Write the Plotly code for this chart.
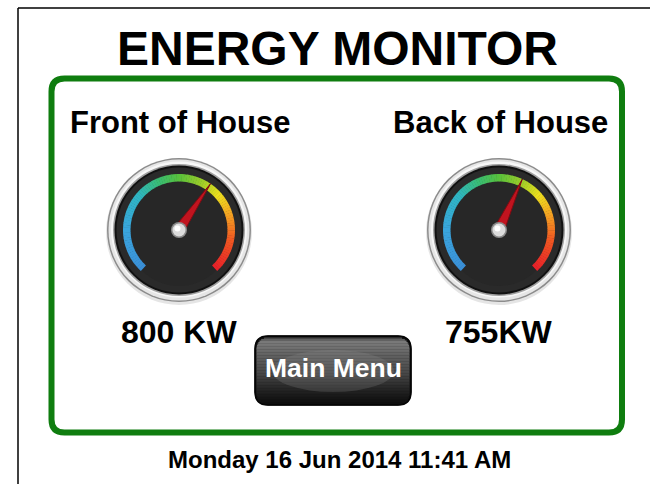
import math
import plotly.graph_objects as go

# ---------------- data ----------------
title_text = "ENERGY MONITOR"
gauge_names = ["Front of House", "Back of House"]
gauge_values = [800, 755]
value_labels = ["800 KW", "755KW"]
gauge_min = 0
gauge_max = 1280
button_label = "Main Menu"
timestamp = "Monday 16 Jun 2014 11:41 AM"

# ---------------- layout / style ----------------
W, H = 650, 484
FONT = "Liberation Sans, Arial, sans-serif"
gauge_centers = [(179, 230), (499, 230)]
START_ANG, END_ANG = -137.0, 137.0
arc_stops = [
    (-137, "#3b8fd8"), (-90, "#3aa6de"), (-50, "#2fb6c4"), (-22, "#3abd72"),
    (0, "#58c23c"), (25, "#9ccd2a"), (48, "#ece11e"), (72, "#f5a623"),
    (100, "#f15a22"), (137, "#e8202a"),
]


def hex2rgb(h):
    h = h.lstrip("#")
    return tuple(int(h[i:i + 2], 16) for i in (0, 2, 4))


def lerp_color(stops, v):
    if v <= stops[0][0]:
        return stops[0][1]
    for (a, ca), (b, cb) in zip(stops[:-1], stops[1:]):
        if a <= v <= b:
            t = (v - a) / (b - a)
            r1, g1, b1 = hex2rgb(ca)
            r2, g2, b2 = hex2rgb(cb)
            return "rgb(%d,%d,%d)" % (r1 + (r2 - r1) * t, g1 + (g2 - g1) * t, b1 + (b2 - b1) * t)
    return stops[-1][1]


def pt(cx, cy, r, ang):
    a = math.radians(ang)
    return cx + r * math.sin(a), cy - r * math.cos(a)


def rrect_path(x0, y0, x1, y1, r):
    return (f"M {x0 + r},{y0} L {x1 - r},{y0} Q {x1},{y0} {x1},{y0 + r} "
            f"L {x1},{y1 - r} Q {x1},{y1} {x1 - r},{y1} L {x0 + r},{y1} "
            f"Q {x0},{y1} {x0},{y1 - r} L {x0},{y0 + r} Q {x0},{y0} {x0 + r},{y0} Z")


def circle(cx, cy, r, fill, line=None, lw=0, opacity=1.0):
    d = dict(type="circle", xref="x", yref="y", x0=cx - r, x1=cx + r, y0=cy - r, y1=cy + r,
             fillcolor=fill, opacity=opacity, layer="above")
    d["line"] = dict(color=line or fill, width=lw)
    return d


shapes = []

# outer frame lines (left and top)
shapes.append(dict(type="line", xref="x", yref="y", x0=18, x1=18, y0=8, y1=H,
                   line=dict(color="#000000", width=1.5), layer="above"))
shapes.append(dict(type="line", xref="x", yref="y", x0=18, x1=W, y0=8, y1=8,
                   line=dict(color="#000000", width=1.5), layer="above"))

# green rounded panel
shapes.append(dict(type="path", xref="x", yref="y", path=rrect_path(51.5, 78.5, 622, 432.5, 13),
                   line=dict(color="#0f7d0f", width=6), fillcolor="rgba(0,0,0,0)", layer="above"))

# gauges
for (cx, cy), val in zip(gauge_centers, gauge_values):
    # bezel
    shapes.append(circle(cx, cy + 2, 73, "rgba(0,0,0,0.10)"))
    shapes.append(circle(cx, cy, 72, "#8c8c8c"))
    shapes.append(circle(cx, cy, 70.5, "#e6e6e6"))
    shapes.append(circle(cx, cy - 0.5, 68, "#f7f7f7"))
    shapes.append(circle(cx, cy, 66, "#a0a0a0"))
    shapes.append(circle(cx, cy, 64.5, "#111111"))
    shapes.append(circle(cx, cy, 62.5, "#2a2a2a"))
    shapes.append(circle(cx, cy + 4, 52, "#272727"))
    # coloured arc
    n = 100
    r_in, r_out = 48.5, 56
    step = (END_ANG - START_ANG) / n
    for i in range(n):
        a0 = START_ANG + i * step
        a1 = a0 + step + 0.4 if i < n - 1 else a0 + step
        col = lerp_color(arc_stops, a0 + step / 2)
        p1 = pt(cx, cy, r_out, a0)
        p2 = pt(cx, cy, r_out, a1)
        p3 = pt(cx, cy, r_in, a1)
        p4 = pt(cx, cy, r_in, a0)
        path = (f"M {p1[0]:.2f},{p1[1]:.2f} L {p2[0]:.2f},{p2[1]:.2f} "
                f"L {p3[0]:.2f},{p3[1]:.2f} L {p4[0]:.2f},{p4[1]:.2f} Z")
        shapes.append(dict(type="path", xref="x", yref="y", path=path, fillcolor=col,
                           line=dict(width=0), layer="above"))
    # needle from value
    frac = (val - gauge_min) / (gauge_max - gauge_min)
    ang = START_ANG + frac * (END_ANG - START_ANG)
    tip = pt(cx, cy, 56, ang)
    bl = pt(cx, cy, 5.2, ang - 90)
    br = pt(cx, cy, 5.2, ang + 90)
    tail = pt(cx, cy, 4, ang + 180)
    shapes.append(dict(type="path", xref="x", yref="y",
                       path=f"M {tip[0]:.2f},{tip[1]:.2f} L {bl[0]:.2f},{bl[1]:.2f} "
                            f"L {tail[0]:.2f},{tail[1]:.2f} L {br[0]:.2f},{br[1]:.2f} Z",
                       fillcolor="#c0141f", line=dict(color="#7e0b12", width=1), layer="above"))
    # hub
    shapes.append(circle(cx, cy, 8, "#8a8a8a"))
    shapes.append(circle(cx, cy, 6.5, "#dcdcdc"))
    shapes.append(circle(cx - 1.5, cy - 1.5, 3, "#ffffff"))

# main menu button with vertical gradient
bx0, by0, bx1, by1, br_ = 255, 336, 411, 405, 13
shapes.append(dict(type="path", xref="x", yref="y", path=rrect_path(bx0, by0, bx1, by1, br_),
                   fillcolor="#111111", line=dict(color="#000000", width=1), layer="above"))
grad = [(0.0, "#3a3a3a"), (0.06, "#7c7c7c"), (0.3, "#5e5e5e"), (0.55, "#474747"),
        (0.78, "#262626"), (1.0, "#0c0c0c")]
band = 1.5
y = by0 + 1.5
ih = (by1 - 1.5) - (by0 + 1.5)
r_in_b = br_ - 1.5
while y < by1 - 1.5:
    y2 = min(y + band, by1 - 1.5)
    ym = (y + y2) / 2
    d_top = ym - (by0 + 1.5)
    d_bot = (by1 - 1.5) - ym
    d = min(d_top, d_bot)
    inset = 0.0
    if d < r_in_b:
        inset = r_in_b - math.sqrt(max(r_in_b ** 2 - (r_in_b - d) ** 2, 0))
    t = (ym - (by0 + 1.5)) / ih
    col = lerp_color(grad, t)
    shapes.append(dict(type="rect", xref="x", yref="y", x0=bx0 + 1.5 + inset, x1=bx1 - 1.5 - inset,
                       y0=y, y1=y2 + 0.3, fillcolor=col, line=dict(width=0), layer="above"))
    y = y2
# central glow
shapes.append(dict(type="circle", xref="x", yref="y", x0=272, x1=394, y0=350, y1=392,
                   fillcolor="rgba(150,150,150,0.22)", line=dict(width=0), layer="above"))
shapes.append(dict(type="path", xref="x", yref="y", path=rrect_path(bx0, by0, bx1, by1, br_),
                   fillcolor="rgba(0,0,0,0)", line=dict(color="#050505", width=1.5), layer="above"))

annotations = []


def text(x, y, s, size, color="#000000"):
    annotations.append(dict(x=x, y=y, xref="x", yref="y", text=f"<b>{s}</b>", showarrow=False,
                            xanchor="center", yanchor="middle",
                            font=dict(family=FONT, size=size, color=color)))


text(337, 48, title_text, 48)
for (cx, cy), name, lab in zip(gauge_centers, gauge_names, value_labels):
    text(cx + 1, 122, name, 31)
    text(cx, 332, lab, 32)
text(333, 368, button_label, 26.5, "#ffffff")
text(339, 459, timestamp, 24)

fig = go.Figure()
fig.add_trace(go.Scatter(x=[0], y=[0], mode="markers", marker=dict(opacity=0), hoverinfo="skip",
                         showlegend=False))
fig.update_layout(
    width=W, height=H, autosize=False,
    margin=dict(l=0, r=0, t=0, b=0, pad=0),
    paper_bgcolor="#ffffff", plot_bgcolor="#ffffff",
    xaxis=dict(range=[0, W], visible=False, fixedrange=True),
    yaxis=dict(range=[H, 0], visible=False, fixedrange=True),
    shapes=shapes, annotations=annotations, showlegend=False,
)
fig.write_html("out.html", config={"displayModeBar": False},
               post_script="document.body.style.margin='0';document.body.style.overflow='hidden';")
